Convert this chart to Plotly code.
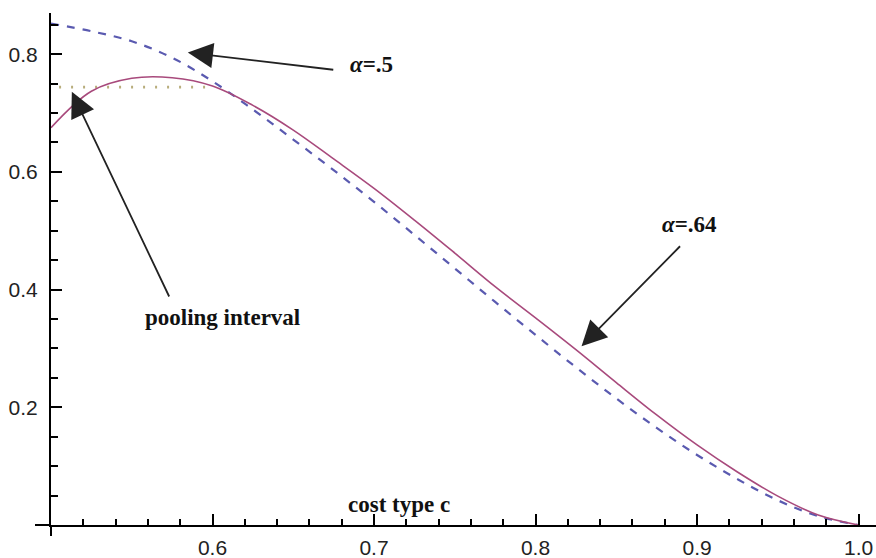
import plotly.graph_objects as go

# cost type grid shared by both curves
c = [0.500, 0.525, 0.550, 0.575, 0.600, 0.625, 0.650, 0.675, 0.700, 0.725, 0.750,
     0.775, 0.800, 0.825, 0.850, 0.875, 0.900, 0.925, 0.950, 0.975, 1.000]

# alpha = .5 (dashed blue)
y_a = [0.852, 0.839, 0.822, 0.794, 0.754, 0.706, 0.655, 0.603, 0.549, 0.493, 0.436,
       0.379, 0.323, 0.268, 0.215, 0.165, 0.119, 0.078, 0.042, 0.015, 0.000]

# alpha = .64 (solid purple)
y_b = [0.675, 0.737, 0.759, 0.760, 0.746, 0.713, 0.671, 0.622, 0.572, 0.518, 0.462,
       0.405, 0.352, 0.298, 0.242, 0.187, 0.136, 0.090, 0.049, 0.017, 0.000]

# pooling interval (dotted)
c_p = [0.505, 0.600]
y_p = [0.744, 0.744]

x_ticks = [0.6, 0.7, 0.8, 0.9, 1.0]
x_tick_text = ["0.6", "0.7", "0.8", "0.9", "1.0"]
y_ticks = [0.2, 0.4, 0.6, 0.8]
y_tick_text = ["0.2", "0.4", "0.6", "0.8"]

fig = go.Figure()
fig.add_trace(go.Scatter(x=c_p, y=y_p, mode="lines",
                         line=dict(color="#b8ad7c", width=2.8, dash="2px,10px"),
                         hoverinfo="skip"))
fig.add_trace(go.Scatter(x=c, y=y_a, mode="lines", line_shape="spline",
                         line=dict(color="#5a5ab0", width=2.2, dash="8px,8px")))
fig.add_trace(go.Scatter(x=c, y=y_b, mode="lines", line_shape="spline",
                         line=dict(color="#a84a7c", width=1.6)))

text_font = dict(family="Liberation Serif, Times New Roman, serif", size=23,
                 color="#111111", weight="bold")

ann = [
    dict(x=0.6986, y=0.782, text="<i>α</i>=.5", showarrow=False, font=text_font),
    dict(x=0.8955, y=0.510, text="<i>α</i>=.64", showarrow=False, font=text_font),
    dict(x=0.6064, y=0.352, text="pooling interval", showarrow=False, font=text_font),
    dict(x=0.7154, y=0.0348, text="cost type c", showarrow=False, font=text_font),
]
arrows = [
    ((0.5847, 0.8027), (0.6757, 0.7733)),
    ((0.8285, 0.3036), (0.8904, 0.4762)),
    ((0.5129, 0.7360), (0.5736, 0.3857)),
]
for (tx, ty), (sx, sy) in arrows:
    ann.append(dict(x=tx, y=ty, ax=sx, ay=sy, axref="x", ayref="y", xref="x", yref="y",
                    text="", showarrow=True, arrowhead=2, arrowsize=2.8,
                    arrowwidth=1.8, arrowcolor="#222222", standoff=0))

tick_font = dict(family="Liberation Sans, Arial, sans-serif", size=21, color="#222222")

fig.update_layout(
    width=876, height=558,
    margin=dict(l=51, r=0, t=13, b=33, autoexpand=False),
    paper_bgcolor="white", plot_bgcolor="white",
    showlegend=False,
    annotations=ann,
    xaxis=dict(range=[0.5, 1.0108], showgrid=False, zeroline=False, automargin=False,
               showline=True, linecolor="black", linewidth=2,
               tickmode="array", tickvals=x_ticks, ticktext=x_tick_text,
               ticks="inside", ticklen=11, tickwidth=2, tickcolor="black",
               minor=dict(dtick=0.02, tick0=0.5, ticks="inside", ticklen=6,
                          tickwidth=1.5, tickcolor="black", showgrid=False),
               tickfont=tick_font, ticklabelstandoff=3),
    yaxis=dict(range=[0, 0.870], showgrid=False, zeroline=False, automargin=False,
               showline=True, linecolor="black", linewidth=2,
               tickmode="array", tickvals=y_ticks, ticktext=y_tick_text,
               ticks="inside", ticklen=11, tickwidth=2, tickcolor="black",
               minor=dict(dtick=0.05, tick0=0, ticks="inside", ticklen=7,
                          tickwidth=1.5, tickcolor="black", showgrid=False),
               tickfont=tick_font, ticklabelstandoff=7),
    shapes=[
        dict(type="line", xref="paper", yref="paper", x0=-16 / 825, x1=0, y0=0, y1=0,
             line=dict(color="black", width=2)),
        dict(type="line", xref="paper", yref="paper", x0=0, x1=0, y0=0, y1=-11 / 512,
             line=dict(color="black", width=2)),
    ],
)

fig.write_html("out.html", config={"displayModeBar": False},
               post_script="document.body.style.margin='0';document.body.style.overflow='hidden';")
